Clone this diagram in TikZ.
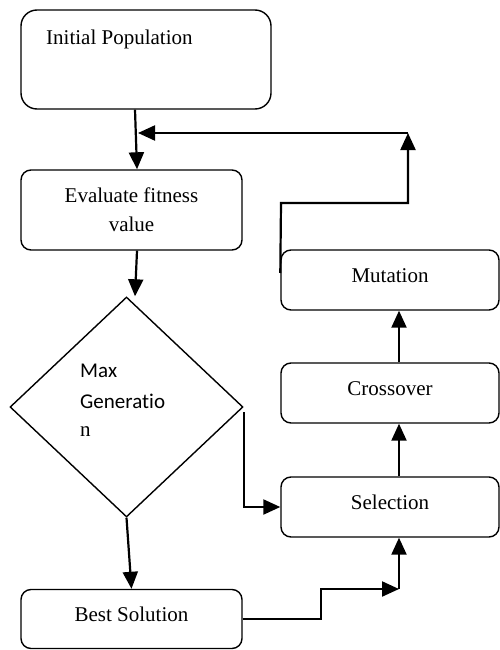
\documentclass[tikz,border=0pt]{standalone}
\usepackage{fontspec}
\setmainfont{Liberation Serif}
\newfontfamily\calib[Ligatures=NoCommon]{Carlito}
\usetikzlibrary{arrows.meta,shapes.geometric,calc}
\begin{document}
\begin{tikzpicture}[x=1pt,y=-1pt,
  box/.style={draw,line width=1.4pt,rounded corners=10pt,inner sep=0pt},
  stxt/.style={font=\fontsize{21}{29}\selectfont,text height=14pt,text depth=9.5pt},
  arr/.style={line width=2.2pt,-{Triangle[length=17pt,width=15pt]}},
  lbl/.style={anchor=base west,font=\fontsize{21}{29}\selectfont,inner sep=0pt}]
\useasboundingbox (0,0) rectangle (500,650);
% boxes
\node[box,rounded corners=16pt,minimum width=250pt,minimum height=99pt] (init) at (146,59.5) {};
\node[lbl] (initT) at (46,45) {Initial Population};
\node[box,minimum width=221pt,minimum height=80pt,font=\fontsize{21}{29}\selectfont,align=center] (eval) at (131.5,210) {Evaluate fitness\\value};
\node[draw,diamond,line width=1.4pt,minimum width=233pt,minimum height=220pt,inner sep=0pt] (dia) at (126.5,407) {};
\node[lbl,font=\calib\fontsize{21}{29}\selectfont] (m1) at (80,377) {Max};
\node[lbl,font=\calib\fontsize{21}{29}\selectfont] (m2) at (80,408) {Generatio};
\node[lbl] (m3) at (80,436) {n};
\node[box,stxt,minimum width=221pt,minimum height=59pt] (best) at (131.5,619) {Best Solution};
\node[box,stxt,minimum width=218pt,minimum height=60pt] (sel) at (390,507) {Selection};
\node[box,stxt,minimum width=218pt,minimum height=60pt] (cross) at (390,393) {Crossover};
\node[box,stxt,minimum width=218pt,minimum height=60pt] (mut) at (390,280) {Mutation};
% coordinates
\coordinate (j1) at (321,589);
\coordinate (j2) at (399,589);
\coordinate (f1) at (281,203);
\coordinate (f2) at (408,203);
\coordinate (f3) at (408,133);
\coordinate (f4) at (138,133);
% connectors
\draw[arr] ([xshift=-11pt]init.south) -- ([xshift=5.5pt]eval.north);
\draw[arr] ([xshift=5.5pt]eval.south) -- ([xshift=8.5pt]dia.north);
\draw[arr] (dia.south) -- (best.north);
\draw[arr] ([yshift=-5pt]dia.east) |- (sel.west);
\draw[arr] (best.east) -| (j1) -- (j2);
\draw[arr] (j2) -- (j2 |- sel.south);
\draw[arr] ([xshift=9pt]sel.north) -- ([xshift=9pt]cross.south);
\draw[arr] ([xshift=9pt]cross.north) -- ([xshift=9pt]mut.south);
\draw[arr] ([yshift=7pt]mut.west) -- (f1) -- (f2) -- (f3);
\draw[arr] (f3) -- (f4);
\end{tikzpicture}
\end{document}
